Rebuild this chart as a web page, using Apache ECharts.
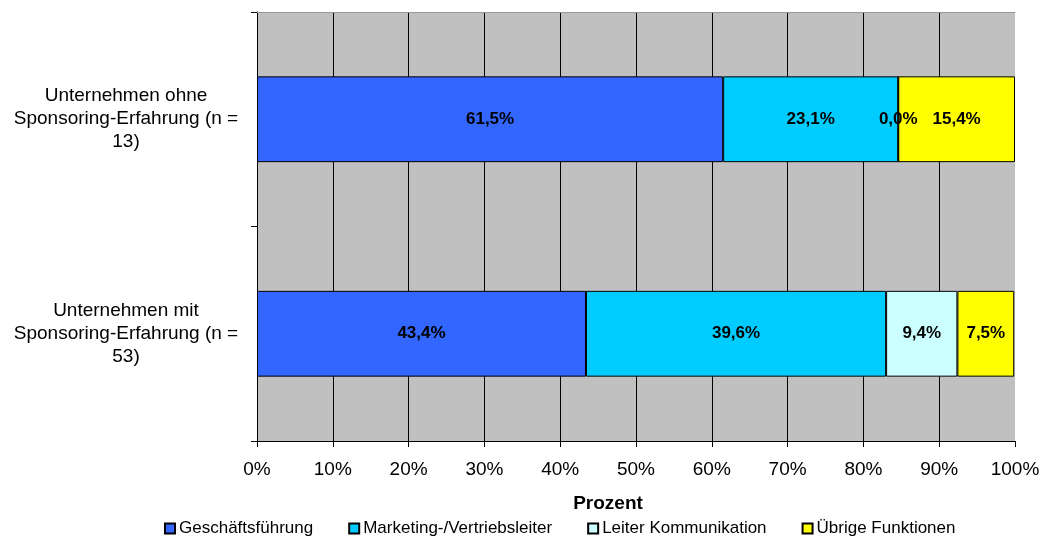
<!DOCTYPE html>
<html>
<head>
<meta charset="utf-8">
<script src="https://cdn.jsdelivr.net/npm/echarts@6/dist/echarts.min.js"></script>
<style>
  html, body { margin: 0; padding: 0; background: #fff; }
  #chart { width: 1044px; height: 538px; }
</style>
</head>
<body>
<div id="chart"></div>
<script>
// Categories, bottom to top
const categories = [
  'Unternehmen mit\nSponsoring-Erfahrung (n =\n53)',
  'Unternehmen ohne\nSponsoring-Erfahrung (n =\n13)'
];
const seriesNames = ['Geschäftsführung', 'Marketing-/Vertriebsleiter', 'Leiter Kommunikation', 'Übrige Funktionen'];
const geschaeftsfuehrung = [43.4, 61.5];
const marketing = [39.6, 23.1];
const kommunikation = [9.4, 0.0];
const uebrige = [7.5, 15.4];
const seriesColors = ['#3366FF', '#00CCFF', '#CCFFFF', '#FFFF00'];
const axisTitle = 'Prozent';

const values = [geschaeftsfuehrung, marketing, kommunikation, uebrige];
const fontFamily = '"Liberation Sans", Arial, sans-serif';

const chart = echarts.init(document.getElementById('chart'));
chart.setOption({
  animation: false,
  textStyle: { fontFamily },
  grid: {
    left: 257, right: 29, top: 12, bottom: 97,
    show: true, backgroundColor: '#C0C0C0', borderWidth: 0
  },
  legend: {
    top: 515, left: 159,
    icon: 'rect', itemWidth: 10, itemHeight: 10, itemGap: 35,
    textStyle: { fontSize: 17, color: '#000', padding: [0, 0, 0, -1] },
    data: seriesNames
  },
  graphic: [{
    type: 'text', x: 608, y: 504,
    style: { text: axisTitle, font: 'bold 19px ' + fontFamily, fill: '#000', textAlign: 'center', textVerticalAlign: 'middle' }
  }],
  xAxis: [{
    type: 'value', min: 0, max: 100, interval: 10,
    axisLine: { show: true, lineStyle: { color: '#000', width: 1 } },
    axisTick: { show: true, length: 6, lineStyle: { color: '#000' } },
    axisLabel: { formatter: v => v + '%', fontSize: 19, color: '#000', margin: 19 },
    splitLine: { show: true, showMaxLine: false, lineStyle: { color: '#000', width: 1 } }
  }, {
    type: 'value', min: 0, max: 100, position: 'top',
    axisLine: { show: true, lineStyle: { color: '#999', width: 1 } },
    axisTick: { show: false }, axisLabel: { show: false }, splitLine: { show: false }
  }],
  yAxis: {
    type: 'category', data: categories,
    axisLine: { show: true, lineStyle: { color: '#000', width: 1 } },
    axisTick: { show: true, length: 6, lineStyle: { color: '#000' } },
    axisLabel: { fontSize: 19, color: '#000', lineHeight: 23, align: 'center', margin: 131 }
  },
  series: values.map((arr, i) => ({
    name: seriesNames[i],
    type: 'bar', stack: 'total', barWidth: '40%',
    data: arr,
    itemStyle: { color: seriesColors[i], borderColor: '#000', borderWidth: 1 },
    label: {
      show: true, position: 'inside', color: '#000',
      fontSize: 17, fontWeight: 'bold',
      formatter: p => p.value.toFixed(1).replace('.', ',') + '%'
    }
  }))
});
</script>
</body>
</html>
